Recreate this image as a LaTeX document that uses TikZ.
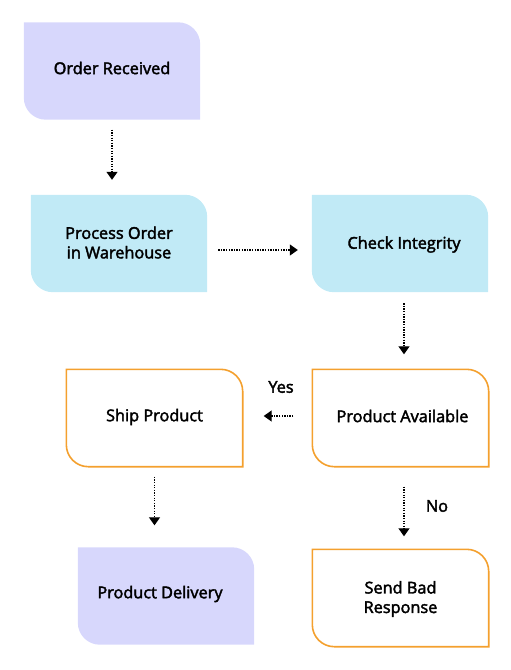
\documentclass[tikz,border=0pt]{standalone}
\usepackage{fontspec}
\setmainfont{Open Sans}[FakeBold=2.4]
\usetikzlibrary{arrows.meta}
\definecolor{lav}{HTML}{D7D7FC}
\definecolor{cyanbox}{HTML}{C1EAF6}
\definecolor{orng}{HTML}{F4A02E}
\newcommand\leafshape[2]{%
  \path[#2] (#1.north west) -- ([xshift=-22pt]#1.north east)
    arc[start angle=90,end angle=0,radius=22pt] -- (#1.south east)
    -- ([xshift=22pt]#1.south west)
    arc[start angle=270,end angle=180,radius=22pt] -- cycle;}
\begin{document}
\begin{tikzpicture}[x=1pt,y=-1pt,
  boxnode/.style={minimum width=176pt,minimum height=97pt,inner sep=0pt,
    align=center,font=\fontsize{16.3}{19.5}\selectfont},
  lavfill/.style={fill=lav},
  cyanfill/.style={fill=cyanbox},
  orngbox/.style={draw=orng,line width=1.6pt,fill=white},
  flow/.style={line width=1.3pt,dash pattern=on 1.3pt off 1.3pt,
    -{Triangle[width=11pt,length=8pt]}},
  lbl/.style={font=\fontsize{16.3}{19.5}\selectfont}]
\useasboundingbox (0,0) rectangle (511,670);
\node[boxnode] (or) at (112,71) {};
\node[boxnode] (po) at (119,243.5) {};
\node[boxnode] (ci) at (400,243.5) {};
\node[boxnode] (pa) at (400.5,418) {};
\node[boxnode] (sp) at (154.5,418) {};
\node[boxnode] (pd) at (166,596) {};
\node[boxnode] (sb) at (400.5,598) {};
\leafshape{or}{lavfill}
\leafshape{po}{cyanfill}
\leafshape{ci}{cyanfill}
\leafshape{pa}{orngbox}
\leafshape{sp}{orngbox}
\leafshape{pd}{lavfill}
\leafshape{sb}{orngbox}
\node[boxnode] at ([yshift=3]or) {Order Received};
\node[boxnode] at ([yshift=1]po) {Process Order\\in Warehouse};
\node[boxnode] at ([xshift=4,yshift=-1]ci) {Check Integrity};
\node[boxnode] at ([xshift=2,yshift=2]pa) {Product Available};
\node[boxnode] at ([yshift=1]sp) {Ship Product};
\node[boxnode] at ([xshift=-6,yshift=2]pd) {Product Delivery};
\node[boxnode] at ([yshift=-1]sb) {Send Bad\\Response};
% connectors
\draw[flow,shorten <=10pt,shorten >=15pt] (or.south) -- (or.south |- po.north);
\draw[flow,shorten <=11pt,shorten >=14pt] ([yshift=-6.5]po.east) -- ([yshift=-6.5]po.east -| ci.west);
\draw[flow,shorten <=11pt,shorten >=15pt] ([xshift=4]ci.south) -- ([xshift=4]ci.south |- pa.north);
\draw[flow,shorten <=19pt,shorten >=21pt] ([yshift=2]pa.west) -- ([yshift=2]pa.west -| sp.east);
\draw[flow,shorten <=10pt,shorten >=22pt] (sp.south) -- (sp.south |- pd.north);
\draw[flow,shorten <=20pt,shorten >=13pt] ([xshift=3.5]pa.south) -- ([xshift=3.5]pa.south |- sb.north);
\node[lbl] (yes) at (281,387) {Yes};
\node[lbl] (no) at (437,506) {No};
\end{tikzpicture}
\end{document}
